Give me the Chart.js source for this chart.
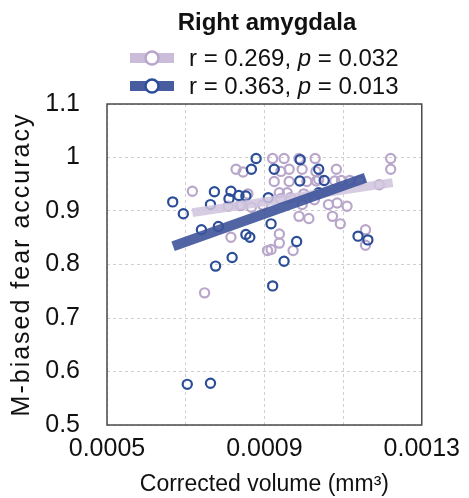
<!DOCTYPE html>
<html>
<head>
<meta charset="utf-8">
<script src="https://cdn.jsdelivr.net/npm/chart.js@4.4.1/dist/chart.umd.min.js"></script>
<style>
    html, body { margin: 0; padding: 0; background: #fff; }
    #wrap { width: 469px; height: 498px; }
</style>
</head>
<body>
<div id="wrap"><canvas id="chartAmygdala"></canvas></div>
<script>
// Dados do gráfico
const chartTitle = 'Right amygdala';
const yAxisTitle = 'M-biased fear accuracy';
const legendLabels = [
    ['r = 0.269, ', 'p', ' = 0.032'],
    ['r = 0.363, ', 'p', ' = 0.013']
];
const xTickLabels = ['0.0005', '0.0009', '0.0013'];
const yTickLabels = ['0.5', '0.6', '0.7', '0.8', '0.9', '1', '1.1'];

// light purple group
const purpleX = [0.000828, 0.000717, 0.000808, 0.000838, 0.000815, 0.000748, 0.000846,
    0.000921, 0.000950, 0.000988, 0.001029, 0.000942, 0.000963, 0.000996, 0.001031,
    0.000925, 0.000963, 0.001008, 0.001032, 0.000858, 0.000938, 0.000958, 0.001000,
    0.000941, 0.000966, 0.001027, 0.000842, 0.000867, 0.000896, 0.000996, 0.000988,
    0.001013, 0.000938, 0.000938, 0.000917, 0.000908, 0.000973, 0.001083, 0.001038,
    0.001079, 0.001096, 0.001117, 0.001142, 0.001192, 0.001221, 0.001221, 0.001063,
    0.001085, 0.001110, 0.001073, 0.001093, 0.001157, 0.001157];
const purpleY = [0.978, 0.937, 0.909, 0.910, 0.851, 0.747, 0.973,
    0.998, 0.998, 0.998, 0.998, 0.974, 0.978, 0.978, 0.974,
    0.955, 0.955, 0.955, 0.956, 0.932, 0.934, 0.934, 0.932,
    0.923, 0.925, 0.921, 0.911, 0.907, 0.911, 0.912, 0.890,
    0.886, 0.857, 0.840, 0.828, 0.826, 0.826, 0.978, 0.959,
    0.956, 0.957, 0.957, 0.956, 0.949, 0.998, 0.978, 0.912,
    0.915, 0.909, 0.890, 0.876, 0.865, 0.836];

// dark blue group
const blueX = [0.000667, 0.000694, 0.000773, 0.000815, 0.000835, 0.000763, 0.000810,
    0.000853, 0.000740, 0.000783, 0.000853, 0.000863, 0.000818, 0.000776, 0.000704,
    0.000763, 0.000879, 0.000867, 0.000925, 0.000990, 0.001038, 0.001052, 0.001038,
    0.000910, 0.000917, 0.000982, 0.000950, 0.000921, 0.001138, 0.001163, 0.000991];
const blueY = [0.917, 0.895, 0.936, 0.937, 0.929, 0.912, 0.923,
    0.928, 0.865, 0.871, 0.856, 0.851, 0.813, 0.797, 0.576,
    0.578, 0.998, 0.978, 0.978, 0.956, 0.978, 0.957, 0.934,
    0.925, 0.876, 0.843, 0.806, 0.760, 0.853, 0.846, 0.996];

// retas de regressão (pontas)
const purpleFitX = [0.000717, 0.001226];
const purpleFitY = [0.897, 0.953];
const blueFitX = [0.000668, 0.001157];
const blueFitY = [0.834, 0.962];

const purpleColor = '#b9a7cb';
const blueColor = '#2c4e98';
const fontFamily = '"Liberation Sans", Arial, Helvetica, sans-serif';

function toPoints(xs, ys) {
    return xs.map((x, i) => ({ x: x, y: ys[i] }));
}

// legenda, título e rótulo do eixo y desenhados à mão (p em itálico)
const legendPlugin = {
    id: 'customLegend',
    afterDraw(chart) {
        const ctx = chart.ctx;
        const area = chart.chartArea;
        ctx.save();

        // moldura
        ctx.strokeStyle = '#4a4a4a';
        ctx.lineWidth = 1.5;
        ctx.strokeRect(area.left, area.top, area.right - area.left, area.bottom - area.top);

        ctx.fillStyle = '#111';
        ctx.textAlign = 'center';
        ctx.textBaseline = 'alphabetic';
        ctx.font = 'bold 24px ' + fontFamily;
        ctx.fillText(chartTitle, 267, 30);

        // rótulo do eixo y
        ctx.save();
        ctx.translate(22, (area.top + area.bottom) / 2 + 1);
        ctx.rotate(-Math.PI / 2);
        ctx.font = '25px ' + fontFamily;
        ctx.textBaseline = 'middle';
        ctx.letterSpacing = '2px';
        ctx.fillText(yAxisTitle, 1, 0);
        ctx.restore();

        const symbols = [
            { line: 'rgba(200,185,215,0.95)', point: purpleColor },
            { line: 'rgba(62,84,155,0.95)', point: blueColor }
        ];
        legendLabels.forEach((parts, i) => {
            const y = 58 + i * 28;
            ctx.strokeStyle = symbols[i].line;
            ctx.lineWidth = 10;
            ctx.beginPath();
            ctx.moveTo(130, y);
            ctx.lineTo(174, y);
            ctx.stroke();
            ctx.beginPath();
            ctx.arc(152, y, 6.5, 0, 2 * Math.PI);
            ctx.fillStyle = '#fff';
            ctx.fill();
            ctx.lineWidth = 2.5;
            ctx.strokeStyle = symbols[i].point;
            ctx.stroke();

            let x = 189;
            ctx.fillStyle = '#111';
            ctx.textAlign = 'left';
            parts.forEach((txt, j) => {
                ctx.font = (j === 1 ? 'italic ' : '') + '24px ' + fontFamily;
                ctx.fillText(txt, x, y + 8);
                x += ctx.measureText(txt).width;
            });
        });
        ctx.restore();
    }
};

const config = {
    type: 'scatter',
    data: {
        datasets: [
            {
                type: 'line',
                data: toPoints(blueFitX, blueFitY),
                borderColor: 'rgba(62,84,155,0.9)',
                borderWidth: 10,
                borderCapStyle: 'butt',
                pointRadius: 0,
                fill: false,
                order: 0
            },
            {
                type: 'line',
                data: toPoints(purpleFitX, purpleFitY),
                borderColor: 'rgba(208,196,222,0.85)',
                borderWidth: 9,
                borderCapStyle: 'butt',
                pointRadius: 0,
                fill: false,
                order: 1
            },
            {
                data: toPoints(blueX, blueY),
                borderColor: blueColor,
                backgroundColor: 'rgba(0,0,0,0)',
                borderWidth: 2.2,
                pointRadius: 4.6,
                order: 2
            },
            {
                data: toPoints(purpleX, purpleY),
                borderColor: purpleColor,
                backgroundColor: 'rgba(0,0,0,0)',
                borderWidth: 2.2,
                pointRadius: 4.6,
                order: 3
            }
        ]
    },
    options: {
        responsive: true,
        maintainAspectRatio: false,
        animation: false,
        layout: {
            padding: { top: 104, right: 42, left: 0, bottom: 0 }
        },
        plugins: {
            legend: { display: false },
            tooltip: { enabled: false }
        },
        scales: {
            x: {
                type: 'linear',
                min: 0.0005,
                max: 0.0013,
                afterFit: (scale) => { scale.height = 73; },
                ticks: {
                    stepSize: 0.0002,
                    autoSkip: false,
                    maxRotation: 0,
                    padding: 9,
                    color: '#111',
                    font: { size: 25, family: fontFamily },
                    callback: (value) => {
                        const s = Number(value).toFixed(4);
                        return xTickLabels.includes(s) ? s : '';
                    }
                },
                grid: { color: '#cfcfcf', lineWidth: 1, drawTicks: false },
                border: { display: false, dash: [3, 3] },
                title: {
                    display: true,
                    text: 'Corrected volume (mm³)',
                    color: '#111',
                    padding: 0,
                    font: { size: 23, family: fontFamily }
                }
            },
            y: {
                min: 0.5,
                max: 1.1,
                afterFit: (scale) => { scale.width = 107; },
                ticks: {
                    stepSize: 0.1,
                    padding: 27,
                    color: '#111',
                    font: { size: 25, family: fontFamily },
                    callback: (value) => {
                        const s = String(Number(Number(value).toFixed(1)));
                        return yTickLabels.includes(s) ? s : '';
                    }
                },
                grid: { color: '#cfcfcf', lineWidth: 1, drawTicks: false },
                border: { display: false, dash: [3, 3] }
            }
        }
    },
    plugins: [legendPlugin]
};

const chartAmygdala = new Chart(document.getElementById('chartAmygdala'), config);
</script>
</body>
</html>
